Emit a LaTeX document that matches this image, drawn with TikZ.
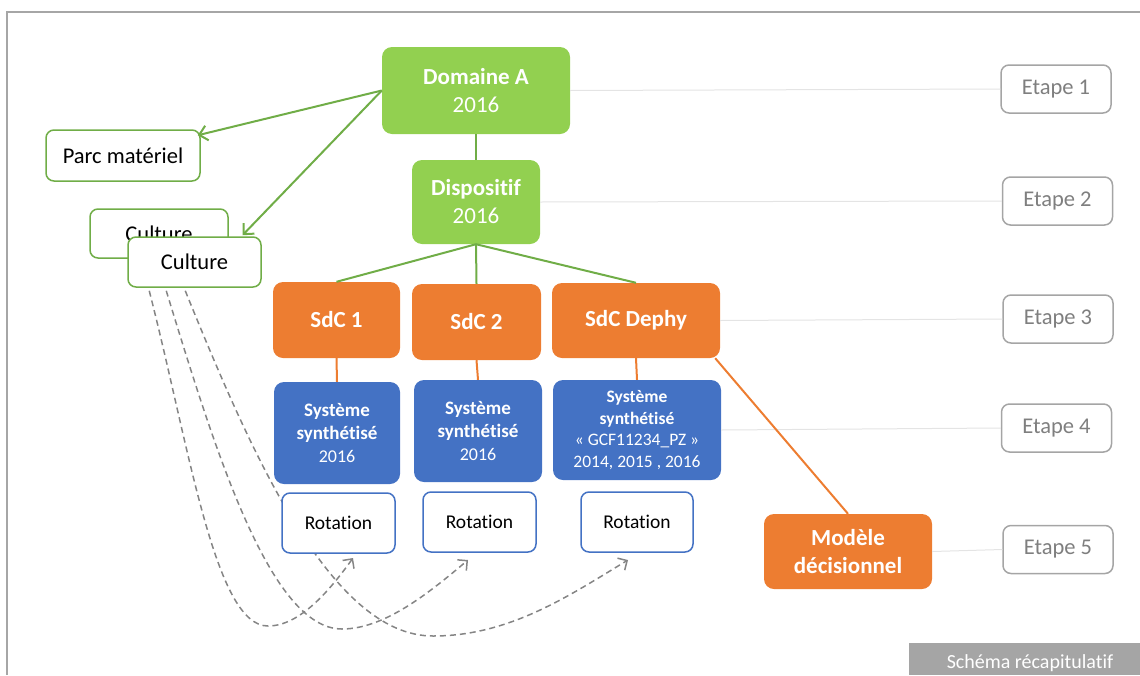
\documentclass[tikz,border=0pt]{standalone}
\usepackage{fontspec}
\setmainfont[Ligatures={NoCommon}]{Carlito}
\usetikzlibrary{arrows.meta,calc}
\definecolor{lgreen}{HTML}{92D050}
\definecolor{dgreen}{HTML}{70AD47}
\definecolor{orng}{HTML}{ED7D31}
\definecolor{blu}{HTML}{4472C4}
\definecolor{etgray}{HTML}{A5A5A5}
\definecolor{ettext}{HTML}{7F7F7F}
\definecolor{dashgray}{HTML}{858585}
\definecolor{faint}{HTML}{E4E4E4}
\definecolor{framegray}{HTML}{A6A6A6}
\tikzset{
  box/.style={rounded corners=10pt, align=center, inner sep=0pt},
  greenbox/.style={box, fill=lgreen, text=white, font=\fontsize{23}{28}\selectfont},
  orangebox/.style={box, fill=orng, text=white, font=\fontsize{23}{28}\selectfont\bfseries},
  bluebox/.style={box, fill=blu, text=white, font=\fontsize{19}{23}\selectfont},
  rotbox/.style={box, rounded corners=8pt, draw=blu, line width=1.5pt, fill=white, font=\fontsize{19.5}{24}\selectfont, minimum width=113pt, minimum height=60pt},
  outbox/.style={box, rounded corners=8pt, draw=dgreen, line width=1.5pt, fill=white, font=\fontsize{22.5}{27}\selectfont},
  etapebox/.style={box, rounded corners=8pt, draw=etgray, line width=1.5pt, fill=white, text=ettext, font=\fontsize{22.5}{27}\selectfont, minimum width=110pt, minimum height=48pt},
  greenline/.style={draw=dgreen, line width=2pt},
  greenarrow/.style={greenline, -{Straight Barb[length=8pt,width=15pt,line width=2pt]}},
  orangeline/.style={draw=orng, line width=2pt},
  faintline/.style={draw=faint, line width=1pt},
  dasharrow/.style={draw=dashgray, line width=1.5pt, dash pattern=on 6pt off 4pt, -{Straight Barb[length=7pt,width=14pt,line width=1.5pt]}},
}
\begin{document}
\begin{tikzpicture}[x=1pt, y=-1pt]
\useasboundingbox (0,0) rectangle (1140,675);
% frame
\draw[framegray, line width=2pt] (7,675) -- (7,12) -- (1140,12);

% nodes
\node[greenbox, minimum width=188pt, minimum height=87pt] (dom) at (476,90.5) {\textbf{Domaine A}\\2016};
\node[greenbox, minimum width=128pt, minimum height=84pt] (disp) at (476,202) {\textbf{Dispositif}\\2016};
\node[orangebox, minimum width=127pt, minimum height=76pt] (sdc1) at (336.5,320) {SdC 1};
\node[orangebox, minimum width=129pt, minimum height=76pt] (sdc2) at (476.5,322) {SdC 2};
\node[orangebox, minimum width=168pt, minimum height=75pt] (dephy) at (636,320.5) {SdC Dephy};
\node[orangebox, minimum width=168pt, minimum height=75pt] (mod) at (848,551.5) {Modèle\\décisionnel};

\node[etapebox] (et1) at (1056,89) {Etape 1};
\node[etapebox] (et2) at (1057.5,201) {Etape 2};
\node[etapebox] (et3) at (1058,319) {Etape 3};
\node[etapebox] (et4) at (1056.5,428) {Etape 4};
\node[etapebox] (et5) at (1058,549.5) {Etape 5};

\node[outbox, minimum width=154pt, minimum height=51pt] (parc) at (123,155.5) {Parc matériel};
\node[outbox, minimum width=138pt, minimum height=49pt] (cult1) at (159,233.5) {Culture};
\node[outbox, minimum width=133pt, minimum height=50pt] (cult2) at (194.5,262) {Culture};

% coordinates for free ends
\coordinate (c1s) at ($(cult2.south west)+(22,3)$);
\coordinate (c2s) at ($(cult2.south west)+(39,3)$);
\coordinate (c3s) at ($(cult2.south west)+(58,3)$);
\coordinate (t1) at (353,558);
\coordinate (t2) at (468,560);
\coordinate (t3) at (628,560);

% dashed curves (behind boxes)
\draw[dasharrow] (c1s) .. controls (190,450) and (215,626) .. (268,626) .. controls (300,626) and (330,590) .. (t1);
\draw[dasharrow] (c2s) .. controls (215,450) and (270,629) .. (342,629) .. controls (385,629) and (430,592) .. (t2);
\draw[dasharrow] (c3s) .. controls (250,450) and (330,636) .. (433,636) .. controls (510,636) and (570,595) .. (t3);

% blue boxes
\node[bluebox, minimum width=126pt, minimum height=102pt] (sys1) at (337,433) {\textbf{Système}\\\textbf{synthétisé}\\{\fontsize{18}{23}\selectfont 2016}};
\node[bluebox, minimum width=128pt, minimum height=102pt] (sys2) at (478,431) {\textbf{Système}\\\textbf{synthétisé}\\{\fontsize{18}{23}\selectfont 2016}};
\node[bluebox, font=\fontsize{17.5}{21.7}\selectfont, minimum width=168pt, minimum height=100pt] (sys3) at (637,430) {\textbf{Système}\\\textbf{synthétisé}\\« GCF11234\_PZ »\\2014, 2015 , 2016};

\node[rotbox] (rot1) at (338.5,523) {Rotation};
\node[rotbox] (rot2) at (479.5,522) {Rotation};
\node[rotbox, minimum width=112pt] (rot3) at (637,522) {Rotation};

% faint lines to steps
\draw[faintline] (dom.east) -- (et1.west);
\draw[faintline] (disp.east) -- (et2.west);
\draw[faintline] (dephy.east) -- (et3.west);
\draw[faintline] (sys3.east) -- (et4.west);
\draw[faintline] (mod.east) -- (et5.west);

% green connectors
\coordinate (parctip) at ($(parc.north east)+(-3,6)$);
\coordinate (culttip) at ($(cult2.north)+(48,-1)$);
\draw[greenarrow] (dom.west) -- (parctip);
\draw[greenarrow] (dom.west) -- (culttip);
\draw[greenline] (dom.south) -- (disp.north);
\draw[greenline] (disp.south) -- (sdc1.north);
\draw[greenline] (disp.south) -- (sdc2.north);
\draw[greenline] (disp.south) -- (dephy.north);

% orange connectors
\draw[orangeline] (sdc1.south) -- (sys1.north);
\draw[orangeline] (sdc2.south) -- (sys2.north);
\draw[orangeline] (dephy.south) -- (sys3.north);
\coordinate (dephycorner) at ($(dephy.south east)+(-5,0)$);
\draw[orangeline] (dephycorner) -- (mod.north);

% caption box
\node[fill=etgray, minimum width=231pt, minimum height=32pt, inner sep=0pt] (cap) at (1024.5,659) {};
\node[text=white, font=\fontsize{20}{24}\selectfont, inner sep=0pt] (captext) at (1030,663) {Schéma récapitulatif};
\end{tikzpicture}
\end{document}
